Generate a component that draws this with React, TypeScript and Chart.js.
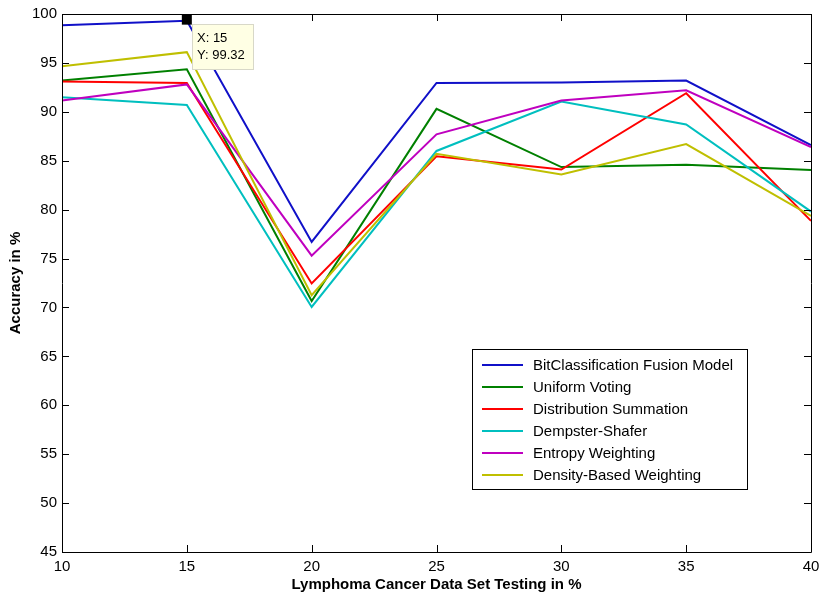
import React, { useEffect, useRef } from "react";
import { Chart, registerables } from "chart.js";

Chart.register(...registerables);

const testingPercent = [10, 15, 20, 25, 30, 35, 40];
const bitClassification = [98.85, 99.32, 76.7, 92.95, 93.0, 93.2, 86.6];
const uniformVoting = [93.2, 94.35, 70.65, 90.3, 84.35, 84.6, 84.05];
const distributionSummation = [93.1, 92.95, 72.45, 85.45, 84.1, 91.9, 78.85];
const dempsterShafer = [91.5, 90.7, 70.05, 86.0, 91.05, 88.7, 79.8];
const entropyWeighting = [91.15, 92.8, 75.3, 87.7, 91.15, 92.2, 86.4];
const densityWeighting = [94.65, 96.1, 71.25, 85.7, 83.6, 86.7, 79.35];

const seriesNames = [
  "BitClassification Fusion Model",
  "Uniform Voting",
  "Distribution Summation",
  "Dempster-Shafer",
  "Entropy Weighting",
  "Density-Based Weighting",
];
const seriesColors = ["#1010c8", "#008000", "#ff0000", "#00bfbf", "#bf00bf", "#bfbf00"];
const seriesValues = [
  bitClassification,
  uniformVoting,
  distributionSummation,
  dempsterShafer,
  entropyWeighting,
  densityWeighting,
];

const yTickMin = 45;
const yTickMax = 100;
const xTickMin = 10;
const xTickMax = 40;
const tickStep = 5;

const dataTipX = 15;
const dataTipY = 99.32;

const FONT = "'Liberation Sans', Arial, sans-serif";

const boxPlugin = {
  id: "matlabBox",
  afterDatasetsDraw(chart: any) {
    const { ctx, chartArea, scales } = chart;
    const { left, right, top, bottom } = chartArea;
    ctx.save();
    ctx.strokeStyle = "#000";
    ctx.lineWidth = 1;
    ctx.beginPath();
    ctx.rect(left + 0.5, top + 0.5, right - left, bottom - top);
    ctx.stroke();
    const tl = 7;
    ctx.beginPath();
    for (let v = xTickMin; v <= xTickMax; v += tickStep) {
      const px = Math.round(scales.x.getPixelForValue(v)) + 0.5;
      ctx.moveTo(px, bottom);
      ctx.lineTo(px, bottom - tl);
      ctx.moveTo(px, top);
      ctx.lineTo(px, top + tl);
    }
    for (let v = yTickMin; v <= yTickMax; v += tickStep) {
      const py = Math.round(scales.y.getPixelForValue(v)) + 0.5;
      ctx.moveTo(left, py);
      ctx.lineTo(left + tl, py);
      ctx.moveTo(right, py);
      ctx.lineTo(right - tl, py);
    }
    ctx.stroke();

    // Legend box
    const lx = 472, ly = 349, lw = 275, lh = 140;
    ctx.fillStyle = "#fff";
    ctx.fillRect(lx, ly, lw, lh);
    ctx.strokeStyle = "#000";
    ctx.strokeRect(lx + 0.5, ly + 0.5, lw, lh);
    ctx.font = `15px ${FONT}`;
    ctx.textBaseline = "middle";
    ctx.textAlign = "left";
    seriesNames.forEach((name, i) => {
      const cy = ly + 16 + i * 22;
      ctx.strokeStyle = seriesColors[i];
      ctx.lineWidth = 2;
      ctx.beginPath();
      ctx.moveTo(482, cy);
      ctx.lineTo(523, cy);
      ctx.stroke();
      ctx.fillStyle = "#000";
      ctx.fillText(name, 533, cy + 1);
    });

    // Data tip
    const mx = scales.x.getPixelForValue(dataTipX);
    const my = scales.y.getPixelForValue(dataTipY);
    ctx.fillStyle = "#000";
    ctx.fillRect(mx - 5, my - 6, 10, 10);
    const bx = 192, by = 24, bw = 61, bh = 45;
    ctx.fillStyle = "#ffffe4";
    ctx.fillRect(bx, by, bw, bh);
    ctx.strokeStyle = "#d8d8c8";
    ctx.lineWidth = 1;
    ctx.strokeRect(bx + 0.5, by + 0.5, bw, bh);
    ctx.fillStyle = "#000";
    ctx.font = `13px ${FONT}`;
    ctx.textBaseline = "alphabetic";
    ctx.fillText(`X: ${dataTipX}`, 197, 42);
    ctx.fillText(`Y: ${dataTipY}`, 197, 59);
    ctx.restore();
  },
};

export default function App() {
  const canvasRef = useRef<HTMLCanvasElement | null>(null);

  useEffect(() => {
    document.body.style.margin = "0";
    const canvas = canvasRef.current;
    if (!canvas) return;
    const datasets = seriesValues.map((vals, i) => ({
      label: seriesNames[i],
      data: testingPercent.map((x, j) => ({ x, y: vals[j] })),
      borderColor: seriesColors[i],
      backgroundColor: seriesColors[i],
      borderWidth: 2,
      pointRadius: 0,
      tension: 0,
      fill: false,
      order: seriesValues.length - 1 - i,
    }));
    const chart = new Chart(canvas, {
      type: "line",
      data: { datasets },
      plugins: [boxPlugin],
      options: {
        animation: false,
        responsive: false,
        devicePixelRatio: 1,
        layout: { padding: { top: 13, right: 18, left: 0, bottom: 0 } },
        plugins: {
          legend: { display: false },
          tooltip: { enabled: false },
        },
        scales: {
          x: {
            type: "linear",
            min: xTickMin,
            max: xTickMax,
            grid: { display: false, drawTicks: false },
            border: { display: false },
            ticks: {
              stepSize: tickStep,
              color: "#000",
              font: { family: FONT, size: 15 },
              padding: 6,
              maxRotation: 0,
            },
            title: {
              display: true,
              text: "Lymphoma Cancer Data Set Testing in %",
              color: "#000",
              font: { family: FONT, size: 15, weight: "bold" },
              padding: { top: 0, bottom: 4 },
            },
            afterFit(scale: any) {
              scale.height = 46;
            },
          },
          y: {
            type: "linear",
            min: yTickMin,
            max: yTickMax,
            grid: { display: false, drawTicks: false },
            border: { display: false },
            ticks: {
              stepSize: tickStep,
              color: "#000",
              font: { family: FONT, size: 15 },
              padding: 5,
            },
            title: {
              display: true,
              text: "Accuracy in %",
              color: "#000",
              font: { family: FONT, size: 15, weight: "bold" },
              padding: { top: 7, bottom: 0 },
            },
            afterFit(scale: any) {
              scale.width = 62;
            },
          },
        },
      },
    });
    return () => chart.destroy();
  }, []);

  return (
    <div style={{ position: "absolute", left: 0, top: 0, width: 829, height: 598, background: "#fff" }}>
      <canvas ref={canvasRef} width={829} height={598} />
    </div>
  );
}
